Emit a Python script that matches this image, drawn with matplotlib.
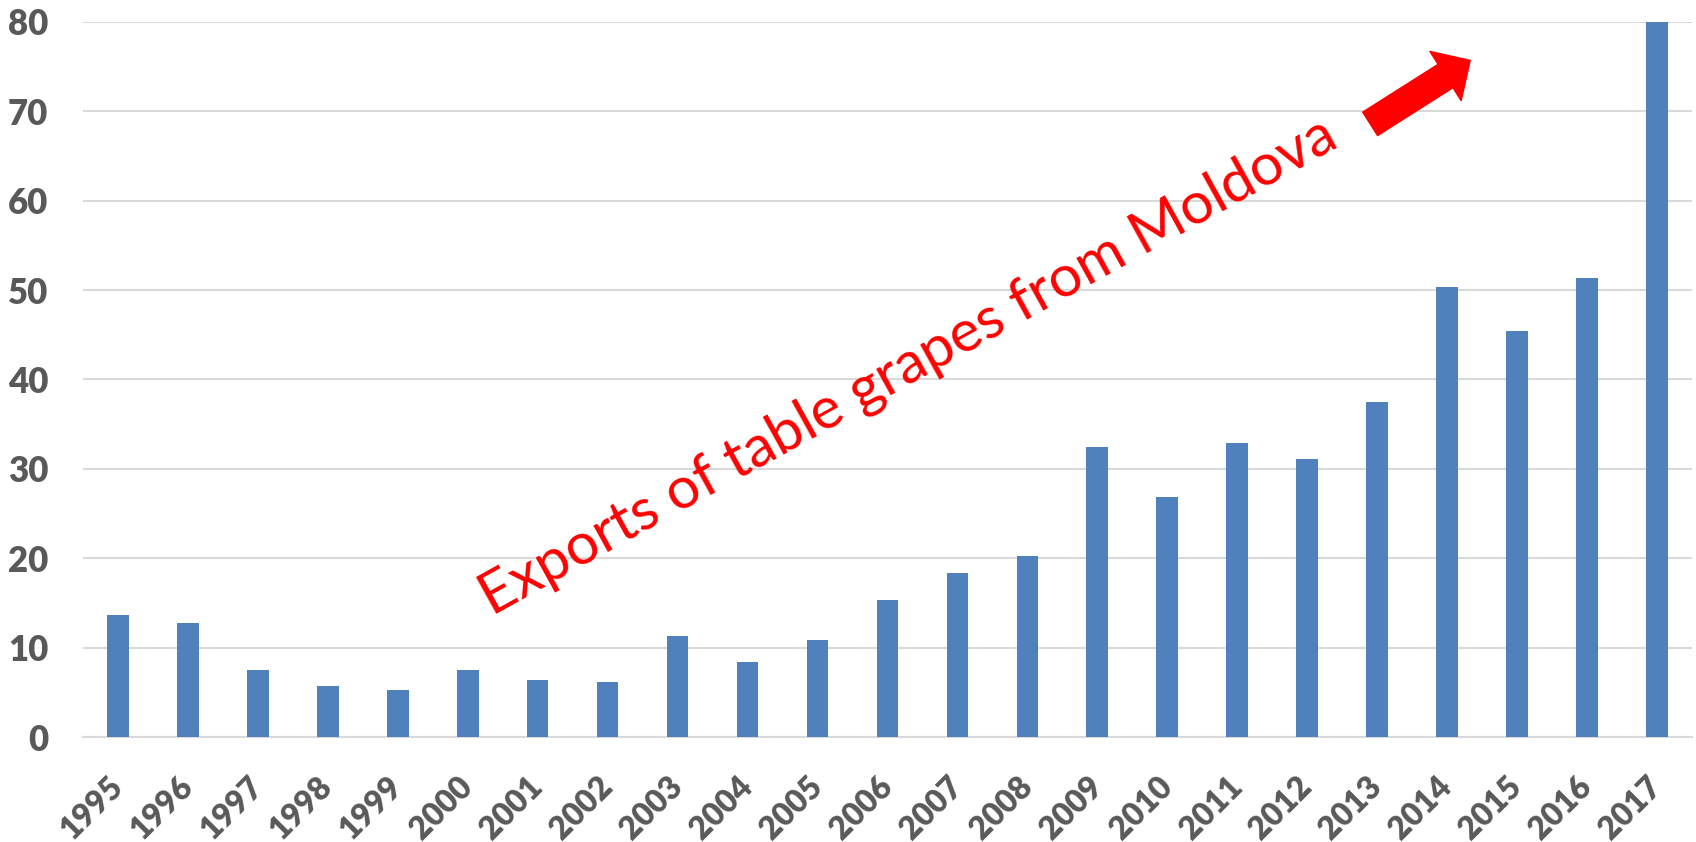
import matplotlib.pyplot as plt
from matplotlib.ticker import MultipleLocator

years = [str(y) for y in range(1995, 2018)]
exports = [13.7, 12.7, 7.5, 5.7, 5.3, 7.5, 6.4, 6.2, 11.3, 8.4, 10.8, 15.3,
           18.4, 20.2, 32.4, 26.8, 32.9, 31.1, 37.5, 50.4, 45.4, 51.3, 80.0]

label_text = "Exports of table grapes from Moldova"

fig = plt.figure(figsize=(16.96, 8.42), dpi=100)
ax = fig.add_axes([0.0489, 0.1247, 0.9487, 0.8492])

x = list(range(len(years)))
ax.bar(x, exports, width=0.31, color='#4F81BD', zorder=3)

ax.set_xlim(-0.5, len(years) - 0.5)
ax.set_ylim(0, 80)
ax.yaxis.set_major_locator(MultipleLocator(10))
ax.grid(axis='y', color='#D9D9D9', linewidth=1.5, zorder=0)

for s in ['top', 'right', 'left']:
    ax.spines[s].set_visible(False)
ax.spines['bottom'].set_color('#D9D9D9')
ax.spines['bottom'].set_linewidth(1.5)

ax.tick_params(axis='both', length=0)
ax.tick_params(axis='y', pad=25)
ax.tick_params(axis='x', pad=32)
ax.set_xticks(x)
ax.set_xticklabels(years, rotation=45, ha='right', va='center',
                   rotation_mode='anchor', fontsize=23, fontweight='heavy',
                   color='#595959', family='Lato')
for t in ax.get_yticklabels():
    t.set_fontsize(25)
    t.set_fontweight('heavy')
    t.set_color('#595959')
    t.set_family('Lato')

# the red text and arrow
ax.text(11.3, 41.5, label_text, rotation=29, rotation_mode='anchor',
        ha='center', va='center', color='red', fontsize=42, family='Lato')
ax.annotate('', xy=(19.33, 75.7), xytext=(17.90, 68.6),
            arrowprops=dict(arrowstyle='simple,tail_width=20,head_width=42,head_length=21',
                            color='red', shrinkA=0, shrinkB=0, mutation_scale=1))

fig.savefig('out.png', dpi=100)
